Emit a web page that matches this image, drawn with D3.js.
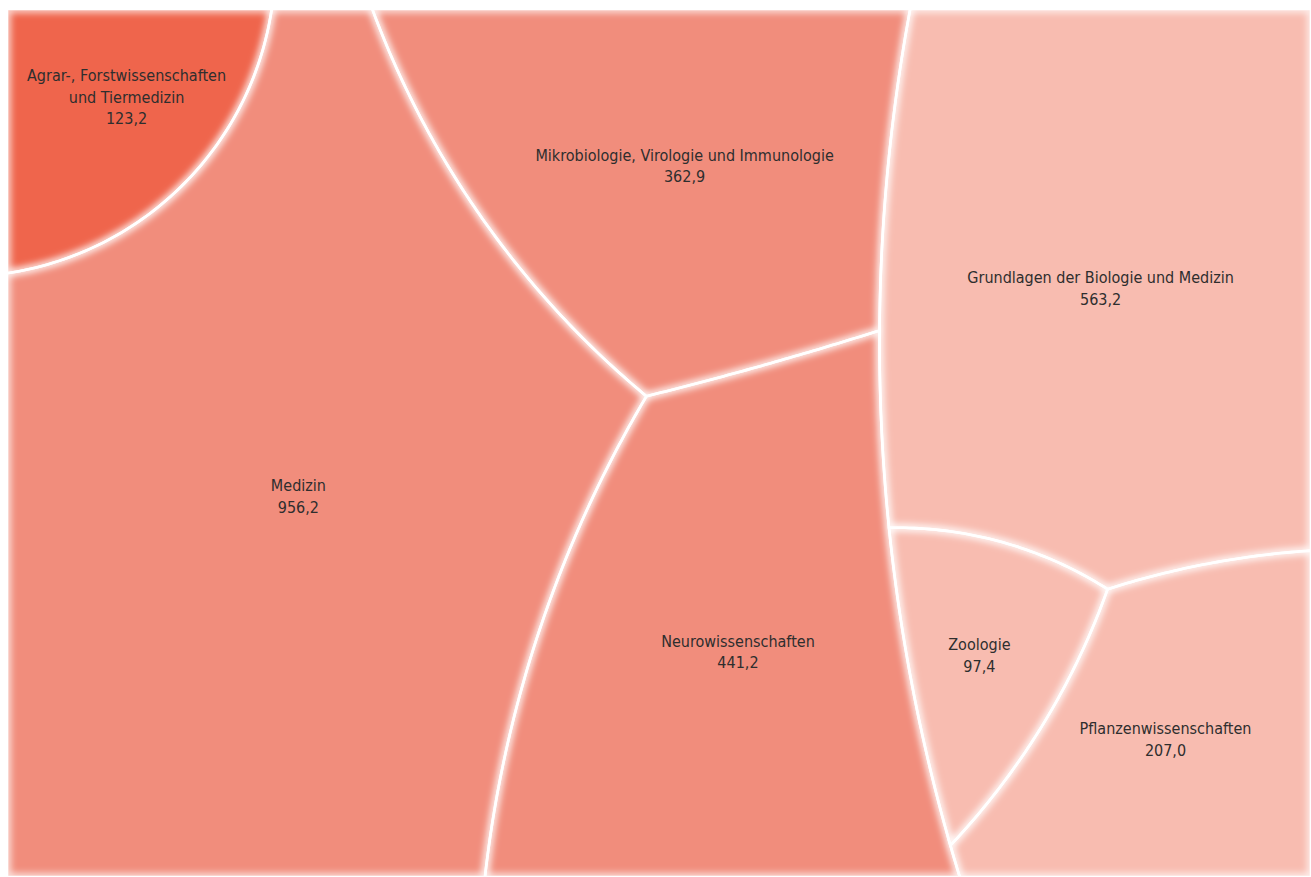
<!DOCTYPE html>
<html>
<head>
<meta charset="utf-8">
<script src="https://cdn.jsdelivr.net/npm/d3@7"></script>
<style>
  body { margin: 0; background: #fff; }
  svg { display: block; }
  .label { font-family: "DejaVu Sans Condensed", "Liberation Sans Narrow", sans-serif; font-size: 16px; fill: #2e2e2e; }
</style>
</head>
<body>
<svg id="chart" width="1311" height="877"></svg>
<script>
// Fachgebiete der Lebenswissenschaften, Beträge in Mio. €
const categories = [
  "Agrar-, Forstwissenschaften und Tiermedizin",
  "Medizin",
  "Mikrobiologie, Virologie und Immunologie",
  "Neurowissenschaften",
  "Grundlagen der Biologie und Medizin",
  "Zoologie",
  "Pflanzenwissenschaften"
];
const labelLines = [
  ["Agrar-, Forstwissenschaften", "und Tiermedizin"],
  ["Medizin"],
  ["Mikrobiologie, Virologie und Immunologie"],
  ["Neurowissenschaften"],
  ["Grundlagen der Biologie und Medizin"],
  ["Zoologie"],
  ["Pflanzenwissenschaften"]
];
const values = [123.2, 956.2, 362.9, 441.2, 563.2, 97.4, 207.0];
const groups = ["Agrar", "Medizin", "Medizin", "Medizin", "Biologie", "Biologie", "Biologie"];

const groupNames = ["Agrar", "Medizin", "Biologie"];
const groupColors = ["#ef654c", "#f18d7c", "#f8bcb0"];

// Layout: relative anchors for the centres of gravity of groups and of fields
const groupAnchors = [
  [0.0703, 0.0987],
  [0.3724, 0.5227],
  [0.8652, 0.4883]
];
const fieldAnchors = [
  [0.0703, 0.0987],
  [0.2170, 0.5599],
  [0.5184, 0.1763],
  [0.5637, 0.7431],
  [0.8417, 0.3255],
  [0.7492, 0.7492],
  [0.8926, 0.8479]
];

const width = 1311, height = 877;
const box = { x0: 7, y0: 9, x1: 1311, y1: 877 };
const W = box.x1 - box.x0, H = box.y1 - box.y0;
const total = d3.sum(values);

const fmt = v => d3.format(".1f")(v).replace(".", ",");
const color = d3.scaleOrdinal().domain(groupNames).range(groupColors);
const xs = d3.scaleLinear().domain([0, 1]).range([box.x0, box.x1]);
const ys = d3.scaleLinear().domain([0, 1]).range([box.y0, box.y1]);
const areaOf = v => v / total * W * H;

// Clip a polygon (vertices carry the label of their outgoing edge) to a*x + b*y <= c
function clipLabeled(poly, a, b, c, lab) {
  const out = [];
  for (let i = 0; i < poly.length; i++) {
    const P = poly[i], Q = poly[(i + 1) % poly.length];
    const fp = a * P.x + b * P.y - c, fq = a * Q.x + b * Q.y - c;
    if (fp <= 0) {
      out.push(P);
      if (fq > 0) {
        const t = fp / (fp - fq);
        out.push({ x: P.x + t * (Q.x - P.x), y: P.y + t * (Q.y - P.y), lab });
      }
    } else if (fq < 0) {
      const t = fp / (fp - fq);
      out.push({ x: P.x + t * (Q.x - P.x), y: P.y + t * (Q.y - P.y), lab: P.lab });
    }
  }
  return out;
}

function sagitta(c, k) {
  if (k < 1e-9) return 0;
  const R = Math.max(1 / k, c / 2);
  const s = R - Math.sqrt(Math.max(0, R * R - c * c / 4));
  return Math.min(s, 0.165 * c);
}

// Power diagram inside a region; borders between siblings become circular arcs,
// the smaller sibling bulging into the larger one. Curvature is tempered in small parents.
function layoutLevel(region, targets, anchorPx, iterations) {
  const m = targets.length;
  const sites = anchorPx.map(p => p.slice());
  const wts = targets.map(() => 0);
  const xr = d3.extent(region, p => p.x), yr = d3.extent(region, p => p.y);
  const share = d3.sum(targets) / (W * H);
  const bend = 1.1 * Math.sqrt(Math.min(1, share / 0.5));

  function build() {
    return d3.range(m).map(i => {
      let poly = region;
      for (let j = 0; j < m && poly.length; j++) {
        if (j === i) continue;
        const [xi, yi] = sites[i], [xj, yj] = sites[j];
        poly = clipLabeled(poly, 2 * (xj - xi), 2 * (yj - yi),
          xj * xj + yj * yj - xi * xi - yi * yi + wts[i] - wts[j], j);
      }
      if (poly.length < 3) return null;
      const edges = [];
      let extra = 0;
      for (let e = 0; e < poly.length; e++) {
        const P = poly[e], Q = poly[(e + 1) % poly.length];
        const c = Math.hypot(Q.x - P.x, Q.y - P.y);
        if (c < 1e-6) continue;
        const d = [(Q.x - P.x) / c, (Q.y - P.y) / c];
        const nrm = [d[1], -d[0]];
        let s = 0, R = 0, sign = 0;
        if (typeof P.lab === "number") {
          const j = P.lab;
          const k = bend * Math.abs(1 / Math.sqrt(targets[i]) - 1 / Math.sqrt(targets[j]));
          s = sagitta(c, k);
          if (s > 0) {
            R = (c * c / 4 + s * s) / (2 * s);
            sign = targets[i] < targets[j] ? 1 : -1;
            const theta = 2 * Math.asin(Math.min(1, c / (2 * R)));
            extra += sign * R * R / 2 * (theta - Math.sin(theta));
          }
        }
        edges.push({ P: [P.x, P.y], c, d, nrm, s, R, sign });
      }
      const ring = poly.map(p => [p.x, p.y]);
      const pa = Math.abs(d3.polygonArea(ring));
      const pc = d3.polygonCentroid(ring);
      return { edges, area: Math.max(1, pa + extra), px: pc[0], py: pc[1] };
    });
  }

  for (let it = 0; it < iterations; it++) {
    const cells = build();
    for (let k = 0; k < m; k++) {
      const cell = cells[k];
      if (!cell) { wts[k] += 0.05 * targets[k]; continue; }
      wts[k] += 0.2 * (targets[k] - cell.area);
      sites[k][0] += 0.2 * (anchorPx[k][0] - cell.px) + 0.01 * (anchorPx[k][0] - sites[k][0]);
      sites[k][1] += 0.2 * (anchorPx[k][1] - cell.py) + 0.01 * (anchorPx[k][1] - sites[k][1]);
      sites[k][0] = Math.max(xr[0], Math.min(xr[1], sites[k][0]));
      sites[k][1] = Math.max(yr[0], Math.min(yr[1], sites[k][1]));
    }
    const mean = d3.mean(wts);
    for (let k = 0; k < m; k++) wts[k] -= mean;
  }
  return build();
}

// Outline points of a cell: straight edges kept, sibling borders sampled as arcs
function outlinePoints(cell) {
  const pts = [];
  if (!cell) return pts;
  cell.edges.forEach(e => {
    pts.push(e.P);
    if (e.s > 0.05) {
      const steps = Math.max(4, Math.ceil(e.c / 5));
      for (let t = 1; t < steps; t++) {
        const x = e.c * t / steps;
        const h = Math.sqrt(Math.max(0, e.R * e.R - (x - e.c / 2) ** 2)) - (e.R - e.s);
        pts.push([
          e.P[0] + e.d[0] * x + e.nrm[0] * e.sign * h,
          e.P[1] + e.d[1] * x + e.nrm[1] * e.sign * h
        ]);
      }
    }
  });
  return pts;
}

// Level 1: the three groups inside the frame
const frame = [
  { x: box.x0, y: box.y0, lab: "frame" },
  { x: box.x1, y: box.y0, lab: "frame" },
  { x: box.x1, y: box.y1, lab: "frame" },
  { x: box.x0, y: box.y1, lab: "frame" }
];
const groupTargets = groupNames.map(g => areaOf(d3.sum(values.filter((v, i) => groups[i] === g))));
const groupCells = layoutLevel(frame, groupTargets,
  groupAnchors.map(([fx, fy]) => [xs(fx), ys(fy)]), 1500);

// Level 2: fields inside each group
const leaves = [];
groupNames.forEach((g, gi) => {
  const members = d3.range(values.length).filter(i => groups[i] === g);
  const parent = groupCells[gi];
  const parentPts = outlinePoints(parent);
  if (members.length === 1 || parentPts.length < 3) {
    members.forEach(i => {
      leaves[i] = { pts: parentPts, px: parent ? parent.px : xs(fieldAnchors[i][0]), py: parent ? parent.py : ys(fieldAnchors[i][1]) };
    });
    return;
  }
  const region = parentPts.map(p => ({ x: p[0], y: p[1], lab: "parent" }));
  const sub = layoutLevel(region, members.map(i => areaOf(values[i])),
    members.map(i => [xs(fieldAnchors[i][0]), ys(fieldAnchors[i][1])]), 1500);
  members.forEach((i, k) => {
    const c = sub[k];
    leaves[i] = {
      pts: outlinePoints(c),
      px: c ? c.px : xs(fieldAnchors[i][0]),
      py: c ? c.py : ys(fieldAnchors[i][1])
    };
  });
});

const cells = leaves.map((leaf, k) => ({
  name: categories[k],
  lines: labelLines[k],
  value: values[k],
  group: groups[k],
  path: leaf.pts.length > 2 ? d3.line()(leaf.pts) + "Z" : "",
  cx: leaf.px,
  cy: leaf.py
}));

const svg = d3.select("#chart");
const defs = svg.append("defs");
defs.append("clipPath").attr("id", "frame").append("rect")
  .attr("x", box.x0).attr("y", box.y0).attr("width", W).attr("height", H);
defs.append("filter").attr("id", "glow")
  .attr("filterUnits", "userSpaceOnUse")
  .attr("x", 0).attr("y", 0).attr("width", width).attr("height", height)
  .append("feGaussianBlur").attr("stdDeviation", 3.5);

const plot = svg.append("g").attr("clip-path", "url(#frame)");

plot.append("g").selectAll("path").data(cells).join("path")
  .attr("d", d => d.path)
  .attr("fill", d => color(d.group));

plot.append("g").attr("filter", "url(#glow)").selectAll("path").data(cells).join("path")
  .attr("d", d => d.path)
  .attr("fill", "none").attr("stroke", "#fff")
  .attr("stroke-width", 7).attr("stroke-opacity", 0.8);

plot.append("g").selectAll("path").data(cells).join("path")
  .attr("d", d => d.path)
  .attr("fill", "none").attr("stroke", "#fff")
  .attr("stroke-width", 2.6).attr("stroke-linejoin", "round");

const lh = 21.5;
const labels = svg.append("g").selectAll("text").data(cells).join("text")
  .attr("class", "label")
  .attr("text-anchor", "middle");
labels.each(function(d) {
  const rows = d.lines.concat([fmt(d.value)]);
  const t = d3.select(this);
  const spans = rows.map((r, i) => t.append("tspan")
    .attr("y", d.cy + (i - (rows.length - 1) / 2) * lh)
    .attr("dominant-baseline", "central")
    .text(r));
  const half = d3.max(spans, s => s.node().getComputedTextLength()) / 2;
  const x = Math.max(box.x0 + half + 20, Math.min(box.x1 - half - 20, d.cx));
  spans.forEach(s => s.attr("x", x));
});
</script>
</body>
</html>
